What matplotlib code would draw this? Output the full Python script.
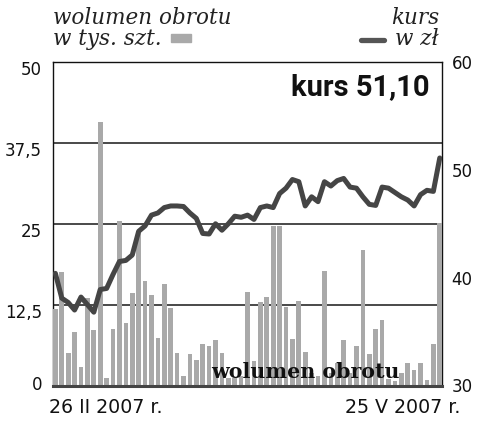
import matplotlib
matplotlib.use("Agg")
import matplotlib.pyplot as plt
from matplotlib.patches import Rectangle
from matplotlib.lines import Line2D
import matplotlib.transforms as mtransforms
import numpy as np

# ---- data ----
volume = [11.8, 17.5, 5.0, 8.2, 2.8, 13.6, 8.6, 40.8, 1.2, 8.8,
          25.4, 9.6, 14.3, 23.9, 16.2, 14.0, 7.3, 15.7, 12.0, 5.1,
          1.5, 4.9, 4.0, 6.4, 6.1, 7.0, 5.0, 1.2, 1.2, 1.4,
          14.4, 3.8, 12.9, 13.7, 24.7, 24.7, 12.1, 7.2, 13.1, 5.2,
          2.0, 1.5, 17.7, 2.0, 3.5, 7.0, 2.0, 6.1, 21.0, 4.8,
          8.7, 10.2, 1.0, 0.7, 2.0, 3.5, 2.4, 3.5, 0.85, 6.4,
          25.1]
price = [40.4, 38.1, 37.7, 37.0, 38.2, 37.5, 36.8, 38.9, 39.0, 40.3,
         41.5, 41.6, 42.1, 44.3, 44.8, 45.8, 46.0, 46.5, 46.65, 46.65,
         46.6, 46.0, 45.5, 44.1, 44.05, 45.0, 44.4, 45.0, 45.7, 45.6,
         45.8, 45.4, 46.5, 46.65, 46.5, 47.8, 48.3, 49.1, 48.9, 46.65,
         47.5, 47.05, 48.9, 48.5, 49.0, 49.2, 48.4, 48.3, 47.5, 46.8,
         46.7, 48.4, 48.3, 47.9, 47.5, 47.2, 46.65, 47.7, 48.1, 48.0,
         51.1]
left_ticks = [0, 12.5, 25, 37.5, 50]
left_labels = ["0", "12,5", "25", "37,5", "50"]
right_ticks = [30, 40, 50, 60]
right_labels = ["30", "40", "50", "60"]
start_label = "26 II 2007 r."
end_label = "25 V 2007 r."
last_price_label = "kurs 51,10"
left_title = "wolumen obrotu\nw tys. szt."
right_title = "kurs\nw zł"
inner_label = "wolumen obrotu"

W, H = 500, 430
fig = plt.figure(figsize=(W / 100, H / 100), dpi=100)
fig.patch.set_facecolor("white")

L, R, T, B = 53, 442, 62, 385.5
ax = fig.add_axes([L / W, 1 - B / H, (R - L) / W, (B - T) / H])
x = np.arange(len(volume))

bar_color = "#a9a9a9"
line_color = "#454545"
grid_color = "#3a3a3a"

ax.bar(x, volume, width=0.73, color=bar_color, zorder=3, linewidth=0)
ax.set_xlim(-0.37, len(volume) - 1 + 0.35)
ax.set_ylim(0, 50)
ax.set_axisbelow(True)
for v in [12.5, 25, 37.5]:
    ax.axhline(v, color=grid_color, lw=1.3, zorder=1)
ax.set_xticks([])
ax.set_yticks(left_ticks)
ax.set_yticklabels(left_labels)
ax.tick_params(axis="y", length=0, pad=8, labelsize=12, labelcolor="#111111")
for sp in ["top", "left", "right"]:
    ax.spines[sp].set_color("#111111")
    ax.spines[sp].set_linewidth(1.0)
ax.spines["bottom"].set_color("#444444")
ax.spines["bottom"].set_linewidth(2.2)
ax.spines["bottom"].set_zorder(4)

# offset left tick labels (placed just below the gridlines)
for lab, v in zip(ax.get_yticklabels(), left_ticks):
    dy_px = 3 if v == 0 else -6.5
    lab.set_transform(lab.get_transform() +
                      mtransforms.ScaledTranslation(0, dy_px / fig.dpi, fig.dpi_scale_trans))

ax.text(0.65, (B - 378) / (B - T), inner_label, transform=ax.transAxes,
        ha="center", va="baseline", fontsize=14.8, fontweight="bold",
        family="DejaVu Serif", color="#111111", zorder=5)

ax2 = ax.twinx()
ax2.plot(x, price, color=line_color, lw=3.6, solid_capstyle="round",
         solid_joinstyle="round", zorder=4)
ax2.set_ylim(30, 60)
ax2.set_yticks(right_ticks)
ax2.set_yticklabels(right_labels)
ax2.tick_params(axis="y", length=0, pad=7, labelsize=12, labelcolor="#111111")
for sp in ax2.spines.values():
    sp.set_visible(False)
ax2.set_xlim(ax.get_xlim())

ax2.text((430 - L) / (R - L), (B - 95) / (B - T), last_price_label, transform=ax2.transAxes,
         ha="right", va="baseline", fontsize=21, fontweight="bold",
         family="Roboto", color="#111111")


def fx(px):
    return px / W


def fy(py):
    return 1 - py / H


# header (two-line titles as single text objects; baseline = last line)
hdr = dict(family="DejaVu Serif", style="italic", fontsize=15.5, color="#222222",
           linespacing=0.93)
fig.text(fx(53), fy(45), left_title, ha="left", va="baseline",
         multialignment="left", **hdr)
fig.text(fx(439), fy(45), right_title, ha="right", va="baseline",
         multialignment="right", **hdr)
fig.patches.append(Rectangle((fx(171), fy(42)), (191 - 171) / W, 8 / H,
                             transform=fig.transFigure, color=bar_color))
fig.lines.append(Line2D([fx(361), fx(384)], [fy(39.5), fy(39.5)], transform=fig.transFigure,
                        color="#555555", lw=3.8, solid_capstyle="round"))

# bottom date labels
fig.text(fx(49), fy(412.7), start_label, ha="left", va="baseline",
         family="DejaVu Sans", fontsize=13.7, color="#111111")
fig.text(fx(460), fy(412.7), end_label, ha="right", va="baseline",
         family="DejaVu Sans", fontsize=13.7, color="#111111")

fig.savefig("out.png", dpi=100, facecolor="white")
